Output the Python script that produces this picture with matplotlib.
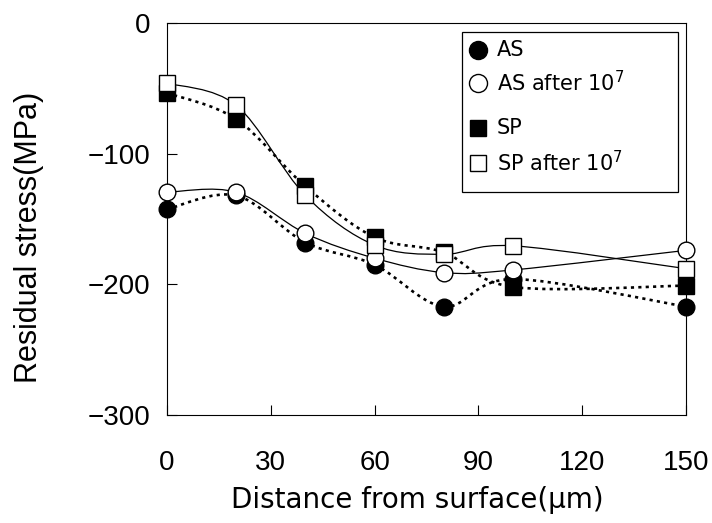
import numpy as np
import matplotlib
matplotlib.use("Agg")
import matplotlib.pyplot as plt
from matplotlib.path import Path
from matplotlib.patches import PathPatch, Rectangle
from matplotlib.lines import Line2D

plt.rcParams['font.family'] = ['Liberation Sans', 'Noto Sans CJK JP', 'DejaVu Sans']
plt.rcParams['mathtext.fontset'] = 'custom'
plt.rcParams['mathtext.rm'] = 'DejaVu Sans'
plt.rcParams['mathtext.it'] = 'DejaVu Sans:italic'
plt.rcParams['mathtext.bf'] = 'DejaVu Sans:bold'

distance = [0, 20, 40, 60, 80, 100, 150]
as_vals = [-142.5, -132, -168, -185, -217, -196, -217]
as_after = [-129.5, -129.5, -161, -180, -191, -189, -174]
sp_vals = [-53.6, -73.6, -125, -164, -175.5, -202, -201]
sp_after = [-46, -63, -132, -170, -177, -170.5, -188]

series = [
    ("AS", as_vals, 'o', 'black', 'dotted'),
    ("AS after $\\mathregular{10^7}$", as_after, 'o', 'white', 'solid'),
    ("SP", sp_vals, 's', 'black', 'dotted'),
    ("SP after $\\mathregular{10^7}$", sp_after, 's', 'white', 'solid'),
]

fig = plt.figure(figsize=(7.12, 5.23), dpi=100)
ax = fig.add_axes([167/712, 1-415/523, (686-167)/712, (415-23)/523])


def smooth_path(xs, ys):
    pts = np.column_stack([xs, ys]).astype(float)
    n = len(pts)
    verts = [pts[0]]
    codes = [Path.MOVETO]
    for i in range(n - 1):
        p0 = pts[i - 1] if i > 0 else pts[i]
        p1 = pts[i]
        p2 = pts[i + 1]
        p3 = pts[i + 2] if i + 2 < n else pts[i + 1]
        c1 = p1 + (p2 - p0) / 6.0
        c2 = p2 - (p3 - p1) / 6.0
        verts += [c1, c2, p2]
        codes += [Path.CURVE4] * 3
    return Path(verts, codes)


for label, vals, mk, fc, ls in series:
    if ls == 'dotted':
        patch = PathPatch(smooth_path(distance, vals), fill=False, edgecolor='black',
                          lw=1.9, linestyle=(0, (1.2, 1.6)), zorder=2)
    else:
        patch = PathPatch(smooth_path(distance, vals), fill=False, edgecolor='black',
                          lw=0.9, linestyle='solid', zorder=2)
    ax.add_patch(patch)

z = 3
for label, vals, mk, fc, ls in series:
    ms = 12 if mk == 'o' else 11.5
    ax.plot(distance, vals, linestyle='none', marker=mk, markersize=ms,
            markerfacecolor=fc, markeredgecolor='black', markeredgewidth=1.0,
            zorder=z, clip_on=False)
    z += 1

ax.set_xlim(0, 150)
ax.set_ylim(-300, 0)
ax.set_xticks([0, 30, 60, 90, 120, 150])
ax.set_yticks([0, -100, -200, -300])
ax.tick_params(axis='x', direction='in', length=7, width=0.8, pad=25, labelsize=20)
ax.tick_params(axis='y', direction='in', length=7, width=0.8, pad=12, labelsize=20)
for s in ax.spines.values():
    s.set_linewidth(0.8)

ax.set_ylabel("Residual stress(MPa)", fontsize=22)
ax.yaxis.set_label_coords(-0.237, 0.454)
ax.set_xlabel("Distance from surface(μm)", fontsize=20, family='DejaVu Sans')
ax.xaxis.set_label_coords(0.482, -0.181)

# legend box
ax.add_patch(Rectangle((0.568, 0.569), 0.985 - 0.568, 0.977 - 0.569, transform=ax.transAxes,
                       facecolor='white', edgecolor='black', lw=0.9, zorder=10))
leg_y = [0.931, 0.847, 0.732, 0.643]
for (label, vals, mk, fc, ls), yy in zip(series, leg_y):
    ms = 13 if mk == 'o' else 12
    ax.add_line(Line2D([0.599], [yy], transform=ax.transAxes, marker=mk, markersize=ms,
                       markerfacecolor=fc, markeredgecolor='black', markeredgewidth=1.0,
                       linestyle='none', zorder=11))
    ax.text(0.636, yy, label, transform=ax.transAxes, fontsize=15, va='center', ha='left',
            family='DejaVu Sans', zorder=11)

fig.savefig("out.png", dpi=100)
